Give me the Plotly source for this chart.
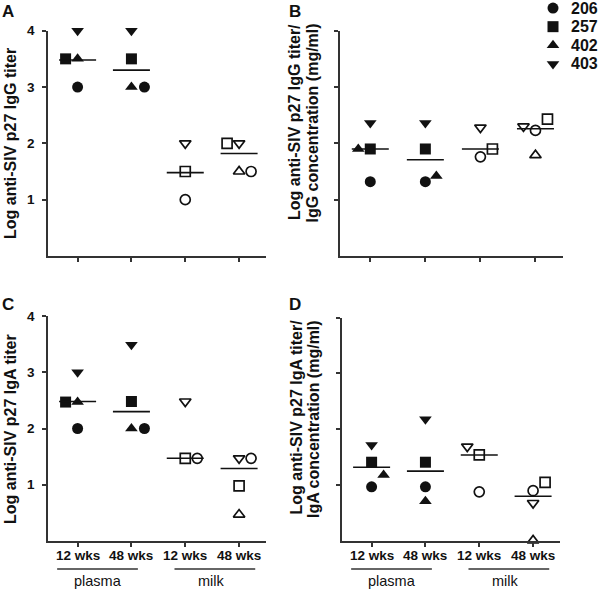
import plotly.graph_objects as go

# ---------------- data ----------------
animals = ["206", "257", "402", "403"]
groups = ["12 wks", "48 wks", "12 wks", "48 wks"]
sources = ["plasma", "milk"]
y_ticks = [1, 2, 3, 4]

# rows = animals (206, 257, 402, 403); columns = plasma 12, plasma 48, milk 12, milk 48
igg_titer = [
    [3.0, 3.0, 1.0, 1.5],
    [3.5, 3.5, 1.5, 2.0],
    [3.5, 3.0, None, 1.5],
    [4.0, 4.0, 2.0, 2.0],
]
igg_titer_mean = [3.48, 3.30, 1.48, 1.82]

igg_norm = [
    [1.32, 1.32, 1.76, 2.23],
    [1.90, 1.90, 1.90, 2.43],
    [1.90, 1.42, None, 1.79],
    [2.36, 2.36, 2.28, 2.30],
]
igg_norm_mean = [1.90, 1.71, 1.90, 2.26]

iga_titer = [
    [2.0, 2.0, 1.47, 1.47],
    [2.47, 2.48, 1.47, 0.98],
    [2.47, 2.0, None, 0.47],
    [3.0, 3.49, 2.48, 1.47],
]
iga_titer_mean = [2.48, 2.30, 1.47, 1.29]

iga_norm = [
    [0.97, 0.97, 0.88, 0.90],
    [1.41, 1.41, 1.54, 1.05],
    [1.18, 0.71, None, 0.01],
    [1.72, 2.18, 1.69, 0.68],
]
iga_norm_mean = [1.32, 1.25, 1.54, 0.80]

# horizontal nudges (pixels) used to separate overlapping points
nudge_a = [[0, 13, 0, 12], [-12, 0, 0, -12], [0, 0, 0, 0], [0, 0, 0, 0]]
nudge_b = [[0, 0, 0, 0], [0, 0, 12, 12], [-12, 11, 0, 0], [0, 0, 0, -12]]
nudge_c = [[0, 13, 12, 12], [-12, 0, 0, 0], [0, 0, 0, 0], [0, 0, 0, 0]]
nudge_d = [[0, 0, 0, 0], [0, 0, 0, 12], [12, 0, 0, 0], [0, 0, -12, 0]]

# ---------------- style ----------------
W, H = 600, 590
FONT = "Liberation Sans, Arial, sans-serif"
INK = "#111111"
AX = "#333333"
symbols = ["circle", "square", "triangle-up", "triangle-down"]
XR = [0.45, 4.5]


def py(p):
    return 1 - p / H


def px(p):
    return p / W


panels = [
    dict(key="A", vals=igg_titer, mean=igg_titer_mean, nudge=nudge_a, xd=(48, 266), yd=(30.7, 256), ax="", labels_y=True, labels_x=False),
    dict(key="B", vals=igg_norm, mean=igg_norm_mean, nudge=nudge_b, xd=(340, 563), yd=(30.7, 256), ax="2", labels_y=False, labels_x=False),
    dict(key="C", vals=iga_titer, mean=iga_titer_mean, nudge=nudge_c, xd=(48, 266), yd=(316, 541), ax="3", labels_y=True, labels_x=True),
    dict(key="D", vals=iga_norm, mean=iga_norm_mean, nudge=nudge_d, xd=(342, 560), yd=(317.5, 541), ax="4", labels_y=False, labels_x=True),
]

fig = go.Figure()
layout = dict(
    width=W, height=H, margin=dict(l=0, r=0, t=0, b=0), autosize=False,
    paper_bgcolor="white", plot_bgcolor="white", showlegend=False,
    font=dict(family=FONT, color=INK),
)
shapes = []
annotations = []
tickfont = dict(family=FONT, size=13.5, color=INK, weight="bold")

for pn in panels:
    xa = "x" + pn["ax"]
    ya = "y" + pn["ax"]
    unit = (pn["xd"][1] - pn["xd"][0]) / (XR[1] - XR[0])
    for i, animal in enumerate(animals):
        row = pn["vals"][i]
        nud = pn["nudge"][i]
        for s, src in enumerate(sources):
            cols = [2 * s, 2 * s + 1]
            xs, ys = [], []
            for c in cols:
                if row[c] is None:
                    continue
                xs.append(c + 1 + nud[c] / unit)
                ys.append(row[c])
            filled = src == "plasma"
            fig.add_trace(go.Scatter(
                x=xs, y=ys, xaxis=xa, yaxis=ya, mode="markers",
                name=animal, cliponaxis=False,
                marker=dict(
                    symbol=symbols[i] if filled else symbols[i] + "-open",
                    size=11 if filled else 10,
                    color=INK,
                    line=dict(width=0 if filled else 1.7, color=INK),
                ),
                hoverinfo="skip",
            ))
    # mean bars
    mx, my = [], []
    half = 18.5 / unit
    for k, m in enumerate(pn["mean"]):
        mx += [k + 1 - half, k + 1 + half, None]
        my += [m, m, None]
    fig.add_trace(go.Scatter(x=mx, y=my, xaxis=xa, yaxis=ya, mode="lines",
                             line=dict(color=INK, width=1.6), hoverinfo="skip", cliponaxis=False))

    axis_common = dict(showline=True, linecolor=AX, linewidth=1.6, ticks="outside",
                       ticklen=4, tickwidth=1.5, tickcolor=AX, showgrid=False,
                       zeroline=False, fixedrange=True, showticklabels=False)
    layout["xaxis" + pn["ax"]] = dict(
        axis_common, domain=[px(pn["xd"][0]), px(pn["xd"][1])], range=XR,
        tickvals=[1, 2, 3, 4], anchor=ya,
    )
    layout["yaxis" + pn["ax"]] = dict(
        axis_common, domain=[py(pn["yd"][1]), py(pn["yd"][0])], range=[0, 4],
        tickvals=y_ticks, anchor=xa,
    )
    # tick labels
    if pn["labels_y"]:
        for t in y_ticks:
            annotations.append(dict(text=str(t), xref="paper", yref=ya, x=px(pn["xd"][0] - 11),
                                    y=t, showarrow=False, xanchor="right", yanchor="middle",
                                    font=tickfont))
    if pn["labels_x"]:
        for k, g in enumerate(groups):
            annotations.append(dict(text=g, xref=xa, yref="paper", x=k + 1, y=py(555),
                                    showarrow=False, xanchor="center", yanchor="middle",
                                    font=tickfont))
        # group underlines and labels
        for (a, b), lab, cx in [((0.62, 2.12), sources[0], 1.38), ((2.8, 4.3), sources[1], 3.48)]:
            shapes.append(dict(type="line", xref=xa, yref="paper", x0=a, x1=b,
                               y0=py(569), y1=py(569), line=dict(color=AX, width=1.6)))
            annotations.append(dict(text=lab, xref=xa, yref="paper", x=cx, y=py(589.5),
                                    showarrow=False, xanchor="center", yanchor="bottom",
                                    borderpad=0,
                                    font=dict(family=FONT, size=14.5, color=INK)))

# panel letters
for lab, x, y in [("A", 8, 11), ("B", 295, 11), ("C", 8, 304), ("D", 295, 304)]:
    annotations.append(dict(text=lab, xref="paper", yref="paper", x=px(x), y=py(y),
                            showarrow=False, xanchor="center", yanchor="middle",
                            font=dict(family=FONT, size=17, color=INK, weight="bold")))

# y-axis titles
tfont = dict(family=FONT, size=16, color=INK, weight="bold")
annotations.append(dict(text="Log anti-SIV p27 IgG titer", xref="paper", yref="paper",
                        x=px(10), y=py(144), textangle=-90, showarrow=False,
                        xanchor="center", yanchor="middle", font=tfont))
annotations.append(dict(text="Log anti-SIV p27 IgA titer", xref="paper", yref="paper",
                        x=px(10), y=py(429), textangle=-90, showarrow=False,
                        xanchor="center", yanchor="middle", font=tfont))
for l1, l2, top, x1, x2 in [
    ("Log anti-SIV p27 IgG titer/", "IgG concentration (mg/ml)", 22, 295, 312),
    ("Log anti-SIV p27 IgA titer/", "IgA concentration (mg/ml)", 318, 296, 313),
]:
    for txt, xx in [(l1, x1), (l2, x2)]:
        annotations.append(dict(text=txt, xref="paper", yref="paper", x=px(xx), y=py(top),
                                textangle=-90, showarrow=False, xanchor="center",
                                yanchor="top", font=tfont))

# legend (own small axis)
fig.add_trace(go.Scatter(
    x=[13] * len(animals), y=animals, xaxis="x5", yaxis="y5", mode="markers",
    cliponaxis=False, hoverinfo="skip",
    marker=dict(symbol=symbols, size=11, color=INK, line=dict(width=0)),
))
layout["xaxis5"] = dict(domain=[px(540), 1], range=[0, 60], visible=False, fixedrange=True)
layout["yaxis5"] = dict(domain=[py(72), 1], range=[3.43, -0.43], type="category",
                        categoryarray=animals, visible=False, fixedrange=True, anchor="x5")
for k, animal in enumerate(animals):
    annotations.append(dict(text=animal, xref="paper", yref="y5", x=px(569), y=k,
                            showarrow=False, xanchor="left", yanchor="middle",
                            font=dict(family=FONT, size=16, color=INK, weight="bold")))

layout["shapes"] = shapes
layout["annotations"] = annotations
fig.update_layout(**layout)
fig.write_html("out.html", config={"displayModeBar": False})

# remove the browser's default page margin so the figure starts at the window corner
with open("out.html", encoding="utf-8") as f:
    html = f.read()
html = html.replace("<head>", "<head><style>html,body{margin:0;padding:0;overflow:hidden;}</style>", 1)
with open("out.html", "w", encoding="utf-8") as f:
    f.write(html)
